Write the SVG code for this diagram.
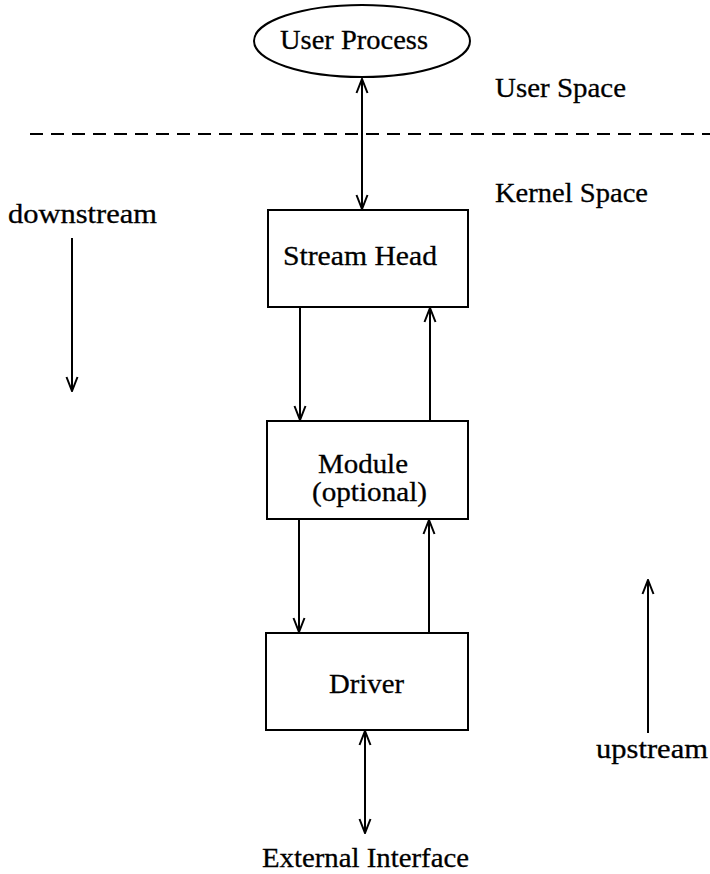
<svg xmlns="http://www.w3.org/2000/svg" width="710" height="874" viewBox="0 0 710 874">
  <style>
    .shape { fill: #fff; stroke: #000; stroke-width: 2; }
    .lbl { font-family: "Liberation Serif", "DejaVu Serif", serif; font-size: 28px; fill: #000; stroke: #000; stroke-width: 0.3; }
    .conn { stroke: #000; stroke-width: 2; fill: none; }
  </style>
  <defs>
    <marker id="head" viewBox="0 0 16 14" refX="15" refY="7" markerWidth="16" markerHeight="14" markerUnits="userSpaceOnUse" orient="auto-start-reverse">
      <path d="M1,1.5 L15,7 L1,12.5" fill="none" stroke="#000" stroke-width="2"/>
    </marker>
  </defs>

  <rect width="710" height="874" fill="#fff"/>

  <!-- space separator and region labels -->
  <line x1="30" y1="134" x2="710" y2="134" stroke="#000" stroke-width="2" stroke-dasharray="13,8"/>
  <text class="lbl" x="495" y="97" textLength="131" lengthAdjust="spacingAndGlyphs">User Space</text>
  <text class="lbl" x="495" y="202" textLength="153" lengthAdjust="spacingAndGlyphs">Kernel Space</text>
  <text class="lbl" x="8" y="223" textLength="149" lengthAdjust="spacingAndGlyphs">downstream</text>
  <text class="lbl" x="596" y="758" textLength="112" lengthAdjust="spacingAndGlyphs">upstream</text>

  <g id="user-process">
    <ellipse class="shape" cx="362" cy="41" rx="108" ry="36"/>
    <text class="lbl" x="280" y="49" textLength="148" lengthAdjust="spacingAndGlyphs">User Process</text>
  </g>

  <g id="stream-head">
    <rect class="shape" x="268" y="210" width="200" height="97"/>
    <text class="lbl" x="283" y="265" textLength="154" lengthAdjust="spacingAndGlyphs">Stream Head</text>
  </g>

  <g id="module">
    <rect class="shape" x="267" y="421" width="201" height="98"/>
    <text class="lbl" x="318" y="473" textLength="90" lengthAdjust="spacingAndGlyphs">Module</text>
    <text class="lbl" x="312" y="501" textLength="115" lengthAdjust="spacingAndGlyphs">(optional)</text>
  </g>

  <g id="driver">
    <rect class="shape" x="266" y="633" width="202" height="97"/>
    <text class="lbl" x="329" y="693" textLength="75" lengthAdjust="spacingAndGlyphs">Driver</text>
  </g>

  <text id="external-interface" class="lbl" x="262" y="867" textLength="207" lengthAdjust="spacingAndGlyphs">External Interface</text>

  <g id="connectors">
    <line class="conn" x1="362" y1="79" x2="362" y2="209" marker-start="url(#head)" marker-end="url(#head)"/>
    <line class="conn" x1="300" y1="307" x2="300" y2="420" marker-end="url(#head)"/>
    <line class="conn" x1="430" y1="421" x2="430" y2="308" marker-end="url(#head)"/>
    <line class="conn" x1="299" y1="519" x2="299" y2="632" marker-end="url(#head)"/>
    <line class="conn" x1="429" y1="633" x2="429" y2="520" marker-end="url(#head)"/>
    <line class="conn" x1="365" y1="731" x2="365" y2="833" marker-start="url(#head)" marker-end="url(#head)"/>
    <line class="conn" x1="72" y1="238" x2="72" y2="391" marker-end="url(#head)"/>
    <line class="conn" x1="648" y1="733" x2="648" y2="580" marker-end="url(#head)"/>
  </g>
</svg>
